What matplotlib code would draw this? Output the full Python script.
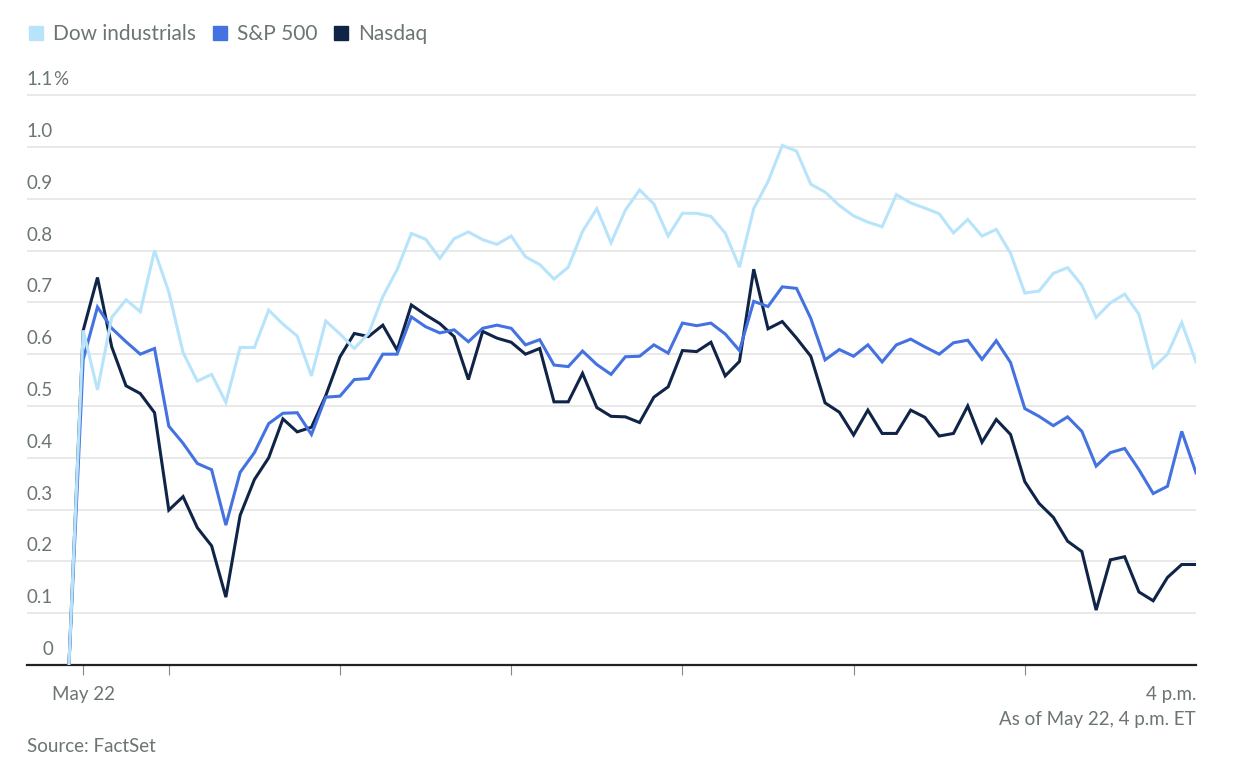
import matplotlib
matplotlib.use("Agg")
import matplotlib.pyplot as plt
from matplotlib.lines import Line2D
from matplotlib.transforms import blended_transform_factory

# minutes after 9:30 a.m., one point every 5 minutes (first point 9:25 = prior close)
minutes = list(range(-5, 391, 5))

dow = [0, 0.646, 0.531, 0.671, 0.705, 0.682, 0.800, 0.720, 0.603, 0.548, 0.561,
       0.507, 0.613, 0.613, 0.685, 0.658, 0.635, 0.558, 0.664, 0.639, 0.611,
       0.640, 0.711, 0.763, 0.833, 0.822, 0.785, 0.823, 0.836, 0.821, 0.812,
       0.828, 0.788, 0.773, 0.745, 0.768, 0.837, 0.881, 0.815, 0.878, 0.917,
       0.890, 0.828, 0.872, 0.872, 0.866, 0.834, 0.768, 0.881, 0.933, 1.003,
       0.992, 0.928, 0.913, 0.887, 0.867, 0.855, 0.846, 0.908, 0.892, 0.882,
       0.871, 0.834, 0.860, 0.828, 0.841, 0.795, 0.718, 0.722, 0.756, 0.767,
       0.733, 0.671, 0.699, 0.716, 0.677, 0.574, 0.600, 0.661, 0.585]

sp500 = [0, 0.590, 0.691, 0.650, 0.624, 0.600, 0.611, 0.461, 0.428, 0.389, 0.377,
         0.270, 0.372, 0.410, 0.466, 0.486, 0.487, 0.445, 0.517, 0.519, 0.551,
         0.553, 0.600, 0.600, 0.672, 0.653, 0.641, 0.647, 0.624, 0.650, 0.656,
         0.650, 0.618, 0.628, 0.579, 0.576, 0.606, 0.580, 0.561, 0.595, 0.596,
         0.618, 0.602, 0.660, 0.655, 0.660, 0.639, 0.607, 0.702, 0.692, 0.730,
         0.727, 0.669, 0.589, 0.609, 0.596, 0.618, 0.585, 0.618, 0.629, 0.614,
         0.600, 0.622, 0.627, 0.590, 0.626, 0.584, 0.495, 0.480, 0.462, 0.479,
         0.451, 0.384, 0.410, 0.418, 0.377, 0.331, 0.345, 0.451, 0.371]

nasdaq = [0, 0.646, 0.748, 0.614, 0.539, 0.524, 0.487, 0.299, 0.325, 0.265, 0.230,
          0.131, 0.289, 0.358, 0.400, 0.475, 0.450, 0.459, 0.520, 0.595, 0.640,
          0.634, 0.656, 0.608, 0.695, 0.676, 0.659, 0.634, 0.551, 0.644, 0.631,
          0.623, 0.600, 0.611, 0.508, 0.508, 0.563, 0.497, 0.480, 0.479, 0.468,
          0.517, 0.537, 0.607, 0.605, 0.623, 0.558, 0.586, 0.764, 0.649, 0.663,
          0.631, 0.596, 0.506, 0.488, 0.444, 0.492, 0.447, 0.447, 0.492, 0.478,
          0.442, 0.447, 0.500, 0.430, 0.474, 0.445, 0.354, 0.312, 0.285, 0.239,
          0.219, 0.106, 0.203, 0.209, 0.141, 0.124, 0.169, 0.194, 0.194]

names = ["Dow industrials", "S&P 500", "Nasdaq"]
colors = ["#b8e4fb", "#4472e0", "#0f2447"]

y_ticks = [0, 0.1, 0.2, 0.3, 0.4, 0.5, 0.6, 0.7, 0.8, 0.9, 1.0, 1.1]
y_labels = ["0", "0.1", "0.2", "0.3", "0.4", "0.5", "0.6", "0.7", "0.8", "0.9", "1.0", "1.1"]
x_ticks = [0, 30, 90, 150, 210, 270, 330, 390]
x_labels = {0: "May 22", 390: "4 p.m."}

grey = "#6b7573"
plt.rcParams["font.family"] = ["Lato", "DejaVu Sans"]

fig = plt.figure(figsize=(12.44, 7.65), dpi=100)
ax = fig.add_axes([27 / 1244, 1 - 665 / 765, (1196 - 27) / 1244, (665 - 84.8) / 765])

ax.set_xlim(-19.7, 390)
ax.set_ylim(0, 1.12)

for t in y_ticks[1:]:
    ax.axhline(t, color="#e3e3e3", lw=1.1, zorder=0)

# numbers right-aligned, the % sign hangs past them on the top label
trans = blended_transform_factory(ax.transAxes, ax.transData)
for t, lab in zip(y_ticks, y_labels):
    ax.annotate(lab, xy=(0, t), xycoords=trans, xytext=(26, 7), textcoords="offset pixels",
                ha="right", va="bottom", fontsize=13.5, color=grey)
ax.annotate("%", xy=(0, y_ticks[-1]), xycoords=trans, xytext=(26, 7),
            textcoords="offset pixels", ha="left", va="bottom", fontsize=13.5, color=grey)

# draw Nasdaq first so the lighter lines sit on top like the original
for vals, col in reversed(list(zip([dow, sp500, nasdaq], colors))):
    ax.plot(minutes, vals, color=col, lw=2.2, solid_joinstyle="miter", zorder=3)

for s in ["top", "right", "left"]:
    ax.spines[s].set_visible(False)
ax.spines["bottom"].set_color("#222222")
ax.spines["bottom"].set_linewidth(1.6)

ax.set_yticks([])
ax.set_xticks(x_ticks)
ax.set_xticklabels([x_labels.get(t, "") for t in x_ticks])
ax.tick_params(axis="x", length=7, width=0.8, color="#888888", labelsize=13.5,
               labelcolor=grey, pad=8)
ax.get_xticklabels()[-1].set_ha("right")
ax.xaxis.get_major_ticks()[-1].tick1line.set_visible(False)

handles = [Line2D([], [], marker="s", linestyle="", markersize=10, color=c) for c in colors]
fig.legend(handles, names, loc="upper left", bbox_to_anchor=(26 / 1244, 1 - 24 / 765),
           ncol=3, frameon=False, fontsize=15, handletextpad=0.3, columnspacing=0.65,
           labelcolor=grey, handlelength=1.0, borderpad=0, borderaxespad=0)

fig.text(1196 / 1244, 1 - 719 / 765, "As of May 22, 4 p.m. ET", ha="right", va="center",
         fontsize=13.5, color=grey)
fig.text(27 / 1244, 1 - 746 / 765, "Source: FactSet", ha="left", va="center",
         fontsize=13.5, color=grey)

fig.savefig("out.png", dpi=100, facecolor="white")
